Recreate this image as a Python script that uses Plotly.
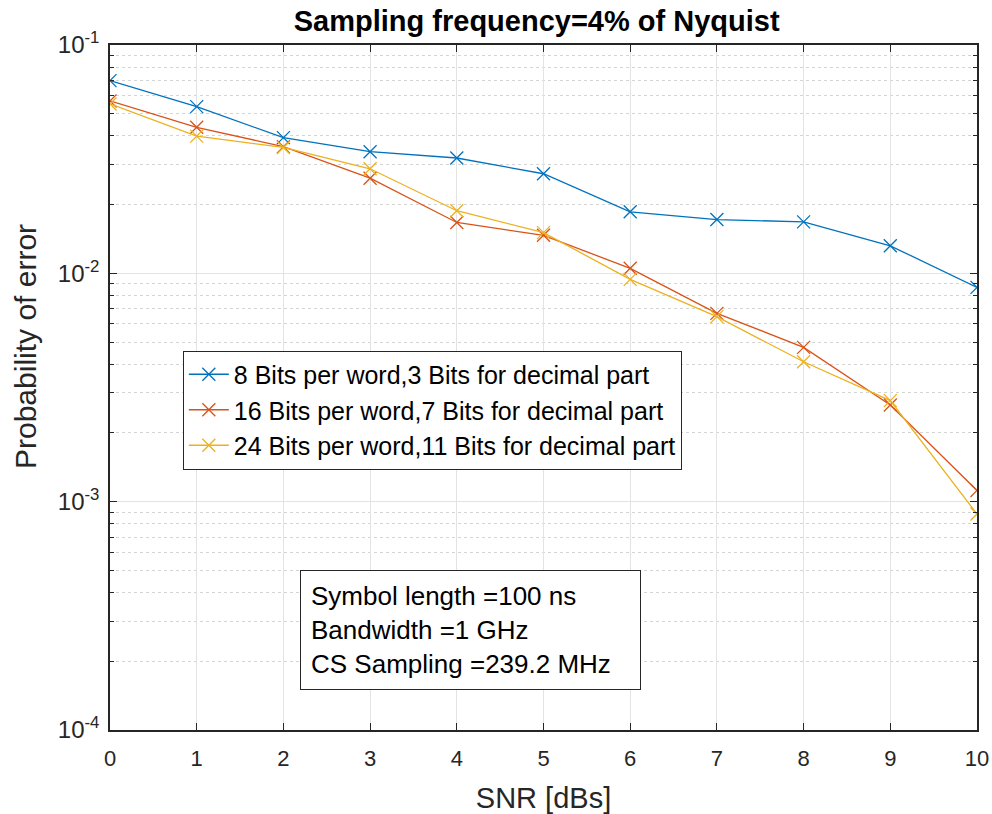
import plotly.graph_objects as go

snr = [0, 1, 2, 3, 4, 5, 6, 7, 8, 9, 10]
p_8bit = [0.0698, 0.0537, 0.0393, 0.0341, 0.0320, 0.0273, 0.0186, 0.0172, 0.0168, 0.0132, 0.00868]
p_16bit = [0.0569, 0.0436, 0.0359, 0.0261, 0.0167, 0.01467, 0.01052, 0.00668, 0.00474, 0.00265, 0.00112]
p_24bit = [0.0552, 0.0399, 0.0356, 0.0287, 0.0188, 0.01507, 0.00941, 0.00646, 0.00410, 0.00277, 0.000883]
names = ["8 Bits per word,3 Bits for decimal part",
         "16 Bits per word,7 Bits for decimal part",
         "24 Bits per word,11 Bits for decimal part"]
colors = ["#0072BD", "#D95319", "#EDB120"]
ytick_vals = [1e-4, 1e-3, 1e-2, 1e-1]
ytick_exps = ["-4", "-3", "-2", "-1"]
minor_vals = [k * 10.0 ** e for e in (-4, -3, -2) for k in range(2, 10)]
info_lines = ["Symbol length =100 ns", "Bandwidth =1 GHz", "CS Sampling =239.2 MHz"]
ytick_text = ["10<sup>%s</sup>" % e for e in ytick_exps]

fig = go.Figure()
for ys, nm, c in zip([p_8bit, p_16bit, p_24bit], names, colors):
    fig.add_trace(go.Scatter(
        x=snr, y=ys, name=nm, mode="lines+markers",
        line=dict(color=c, width=1.3),
        marker=dict(symbol="x-thin", size=13, line=dict(color=c, width=1.3)),
    ))

font = "Liberation Sans, Arial, sans-serif"
fig.update_layout(
    width=992, height=814,
    margin=dict(l=110, r=15, t=45, b=84, autoexpand=False),
    paper_bgcolor="white", plot_bgcolor="white",
    font=dict(family=font, color="#262626", size=22),
    title=dict(text="<b>Sampling frequency=4% of Nyquist</b>", x=0.541, xanchor="center",
               y=0.974, yanchor="middle", font=dict(size=29, color="black")),
    showlegend=True,
    legend=dict(x=0.084, y=0.554, xanchor="left", yanchor="top",
                bgcolor="white", bordercolor="#262626", borderwidth=1,
                font=dict(size=25, color="black"), tracegroupgap=0,
                itemwidth=40),
    annotations=[
        dict(text="<br>".join(info_lines), xref="paper", yref="paper",
             x=0.219, y=0.2336, xanchor="left", yanchor="top", align="left",
             showarrow=False, font=dict(size=26, color="black"), width=319,
             bordercolor="#262626", borderwidth=1, borderpad=10, bgcolor="white"),
        dict(text="Probability of error", xref="paper", yref="paper",
             x=(25 - 110) / 867, y=(730 - 347) / 685, xanchor="center", yanchor="middle",
             textangle=-90, showarrow=False, font=dict(size=30, color="#262626")),
    ],
)
fig.update_xaxes(
    range=[0, 10], tickvals=snr, ticks="inside", ticklen=7, tickcolor="#262626",
    showline=True, linecolor="#262626", linewidth=1.5, mirror="ticks",
    showgrid=True, gridcolor="#e3e3e3", gridwidth=1, zeroline=False,
    title=dict(text="SNR [dBs]", font=dict(size=29), standoff=20),
    tickfont=dict(size=22), ticklabeloverflow="allow", automargin=False,
    ticklabelstandoff=8,
)
fig.update_yaxes(
    type="log", range=[-4, -1], tickvals=ytick_vals, ticktext=ytick_text,
    ticks="inside", ticklen=7, tickcolor="#262626",
    showline=True, linecolor="#262626", linewidth=1.5, mirror="ticks",
    showgrid=True, gridcolor="#e3e3e3", gridwidth=1, zeroline=False,
    minor=dict(tickvals=minor_vals, ticks="inside", ticklen=4, tickcolor="#262626",
               showgrid=True, gridcolor="#d4d4d4", griddash="dot", gridwidth=1),
    tickfont=dict(size=24), automargin=False, ticklabelstandoff=4,
)
fig.write_html("out.html")
